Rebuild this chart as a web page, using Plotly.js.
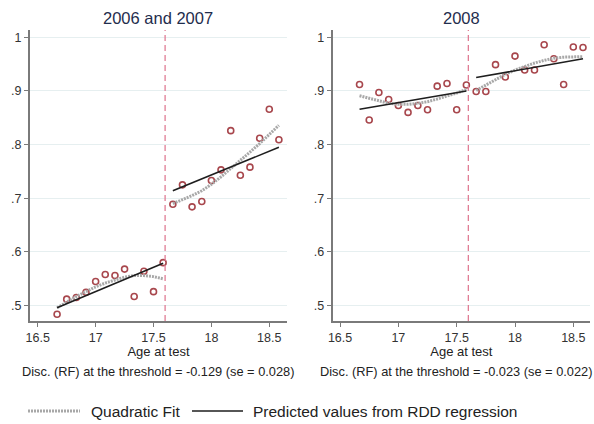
<!DOCTYPE html>
<html>
<head>
<meta charset="utf-8">
<script src="https://cdn.plot.ly/plotly-3.0.1.min.js"></script>
<style>html,body{margin:0;padding:0;background:#fff;}#chart{width:594px;height:424px;}</style>
</head>
<body>
<div id="chart"></div>
<script>
// ---- data ----
const threshold = 17.6;
const binsBelow = [16.667, 16.75, 16.833, 16.917, 17.0, 17.083, 17.167, 17.25, 17.333, 17.417, 17.5, 17.583];
const binsAbove = [17.667, 17.75, 17.833, 17.917, 18.0, 18.083, 18.167, 18.25, 18.333, 18.417, 18.5, 18.583];

// Panel 1: 2006 and 2007
const p1MeansBelow = [0.484, 0.512, 0.515, 0.525, 0.545, 0.558, 0.556, 0.568, 0.517, 0.564, 0.526, 0.580];
const p1MeansAbove = [0.689, 0.725, 0.684, 0.694, 0.733, 0.753, 0.826, 0.743, 0.758, 0.812, 0.866, 0.809];
const p1QuadBelow = [0.496, 0.507, 0.517, 0.526, 0.535, 0.542, 0.548, 0.553, 0.556, 0.556, 0.554, 0.550];
const p1QuadAbove = [0.690, 0.697, 0.705, 0.714, 0.726, 0.740, 0.755, 0.770, 0.786, 0.802, 0.819, 0.836];
const p1RddXBelow = [16.667, 17.583], p1RddBelow = [0.496, 0.579];
const p1RddXAbove = [17.667, 18.583], p1RddAbove = [0.714, 0.795];

// Panel 2: 2008
const p2MeansBelow = [0.912, 0.846, 0.897, 0.884, 0.873, 0.860, 0.873, 0.865, 0.909, 0.914, 0.865, 0.911];
const p2MeansAbove = [0.899, 0.899, 0.949, 0.926, 0.965, 0.939, 0.939, 0.986, 0.960, 0.912, 0.982, 0.981];
const p2QuadBelow = [0.891, 0.886, 0.881, 0.877, 0.875, 0.875, 0.877, 0.880, 0.885, 0.890, 0.896, 0.903];
const p2QuadAbove = [0.901, 0.911, 0.921, 0.931, 0.939, 0.946, 0.952, 0.957, 0.961, 0.963, 0.964, 0.964];
const p2RddXBelow = [16.667, 17.583], p2RddBelow = [0.866, 0.900];
const p2RddXAbove = [17.667, 18.583], p2RddAbove = [0.925, 0.960];

const panelTitles = ["2006 and 2007", "2008"];
const discTexts = ["Disc. (RF) at the threshold = -0.129 (se = 0.028)",
                   "Disc. (RF) at the threshold = -0.023 (se = 0.022)"];
const xTickVals = [16.5, 17, 17.5, 18, 18.5];
const xTickText = ["16.5", "17", "17.5", "18", "18.5"];
const yTickVals = [0.5, 0.6, 0.7, 0.8, 0.9, 1.0];
const yTickText = [".5", ".6", ".7", ".8", ".9", "1"];
const xTitle = "Age at test";
const legendNames = ["Quadratic Fit", "Predicted values from RDD regression"];

// ---- styles ----
const FONT = "Liberation Sans, Arial, sans-serif";
const markerColor = "#a8474d";
const quadStyle = {color: "#a8a8a8", width: 3, dash: "2px,1px"};
const rddStyle = {color: "#1e1e1e", width: 1.6};

function panelTraces(xa, ya, mb, ma, qb, qa, rxb, rb, rxa, ra) {
  return [
    {x: binsBelow.concat(binsAbove), y: mb.concat(ma), xaxis: xa, yaxis: ya, type: "scatter", mode: "markers",
     marker: {symbol: "circle-open", size: 6, color: markerColor, line: {width: 1.6, color: markerColor}},
     showlegend: false, hoverinfo: "skip"},
    {x: binsBelow, y: qb, xaxis: xa, yaxis: ya, type: "scatter", mode: "lines", line: quadStyle,
     name: legendNames[0], showlegend: false},
    {x: binsAbove, y: qa, xaxis: xa, yaxis: ya, type: "scatter", mode: "lines", line: quadStyle,
     name: legendNames[0], showlegend: false},
    {x: rxb, y: rb, xaxis: xa, yaxis: ya, type: "scatter", mode: "lines", line: rddStyle,
     name: legendNames[1], showlegend: false},
    {x: rxa, y: ra, xaxis: xa, yaxis: ya, type: "scatter", mode: "lines", line: rddStyle,
     name: legendNames[1], showlegend: false}
  ];
}

const traces = [].concat(
  panelTraces("x", "y", p1MeansBelow, p1MeansAbove, p1QuadBelow, p1QuadAbove, p1RddXBelow, p1RddBelow, p1RddXAbove, p1RddAbove),
  panelTraces("x2", "y2", p2MeansBelow, p2MeansAbove, p2QuadBelow, p2QuadAbove, p2RddXBelow, p2RddBelow, p2RddXAbove, p2RddAbove)
);

const W = 594, H = 424;
const yDom = [1 - 321 / H, 1 - 30 / H];

function xAxis(dom, range, anchor) {
  return {domain: dom, range: range, anchor: anchor, showgrid: false, zeroline: false,
    showline: true, linecolor: "#7a7a7a", linewidth: 1.5, ticks: "outside", ticklen: 4, tickcolor: "#7a7a7a",
    tickvals: xTickVals, ticktext: xTickText, tickfont: {family: FONT, size: 12.5, color: "#333"},
    title: {text: xTitle, font: {family: FONT, size: 13, color: "#222"}, standoff: 0}, fixedrange: true};
}
function yAxis(range, anchor) {
  return {domain: yDom, range: range, anchor: anchor, showgrid: true, gridcolor: "#e6eff0", gridwidth: 1,
    zeroline: false, showline: true, linecolor: "#7a7a7a", linewidth: 2, ticks: "outside", ticklen: 4,
    tickcolor: "#7a7a7a", tickvals: yTickVals, ticktext: yTickText,
    tickfont: {family: FONT, size: 12.5, color: "#333"}, fixedrange: true};
}

// legend keys (drawn in paper coordinates)
const legY = 1 - 411 / H;
const legendShapes = [
  {type: "line", xref: "paper", yref: "paper", x0: 28 / W, x1: 80 / W, y0: legY, y1: legY, line: quadStyle},
  {type: "line", xref: "paper", yref: "paper", x0: 192 / W, x1: 243 / W, y0: legY, y1: legY, line: rddStyle}
];
const legendLabels = [
  {text: legendNames[0], xref: "paper", yref: "paper", x: 89 / W, y: legY, showarrow: false,
   xanchor: "left", yanchor: "middle", font: {family: FONT, size: 15.5, color: "#222"}},
  {text: legendNames[1], xref: "paper", yref: "paper", x: 251 / W, y: legY, showarrow: false,
   xanchor: "left", yanchor: "middle", font: {family: FONT, size: 15.5, color: "#222"}}
];

const layout = {
  width: W, height: H, margin: {l: 0, r: 0, t: 0, b: 0}, paper_bgcolor: "#fff", plot_bgcolor: "#fff",
  font: {family: FONT, color: "#222"},
  xaxis: xAxis([30 / W, 287 / W], [16.433, 18.653], "y"),
  yaxis: yAxis([0.4713, 1.0136], "x"),
  xaxis2: xAxis([332.7 / W, 590 / W], [16.437, 18.643], "y2"),
  yaxis2: yAxis([0.4713, 1.0136], "x2"),
  shapes: [
    {type: "line", xref: "x", yref: "y domain", x0: threshold, x1: threshold, y0: 0, y1: 1,
     line: {color: "#e07d95", width: 1.3, dash: "6px,4px"}},
    {type: "line", xref: "x2", yref: "y2 domain", x0: threshold, x1: threshold, y0: 0, y1: 1,
     line: {color: "#e07d95", width: 1.3, dash: "6px,4px"}}
  ].concat(legendShapes),
  annotations: [
    {text: panelTitles[0], xref: "paper", yref: "paper", x: 158 / W, y: 1 - 18 / H, showarrow: false,
     xanchor: "center", yanchor: "middle", font: {family: FONT, size: 16.5, color: "#1f2d4d"}},
    {text: panelTitles[1], xref: "paper", yref: "paper", x: 461 / W, y: 1 - 18 / H, showarrow: false,
     xanchor: "center", yanchor: "middle", font: {family: FONT, size: 16.5, color: "#1f2d4d"}},
    {text: discTexts[0], xref: "paper", yref: "paper", x: 158 / W, y: 1 - 371 / H, showarrow: false,
     xanchor: "center", yanchor: "middle", font: {family: FONT, size: 12.8, color: "#222"}},
    {text: discTexts[1], xref: "paper", yref: "paper", x: 456 / W, y: 1 - 371 / H, showarrow: false,
     xanchor: "center", yanchor: "middle", font: {family: FONT, size: 12.8, color: "#222"}}
  ].concat(legendLabels),
  showlegend: false
};

Plotly.newPlot("chart", traces, layout, {staticPlot: true, displayModeBar: false});
</script>
</body>
</html>
